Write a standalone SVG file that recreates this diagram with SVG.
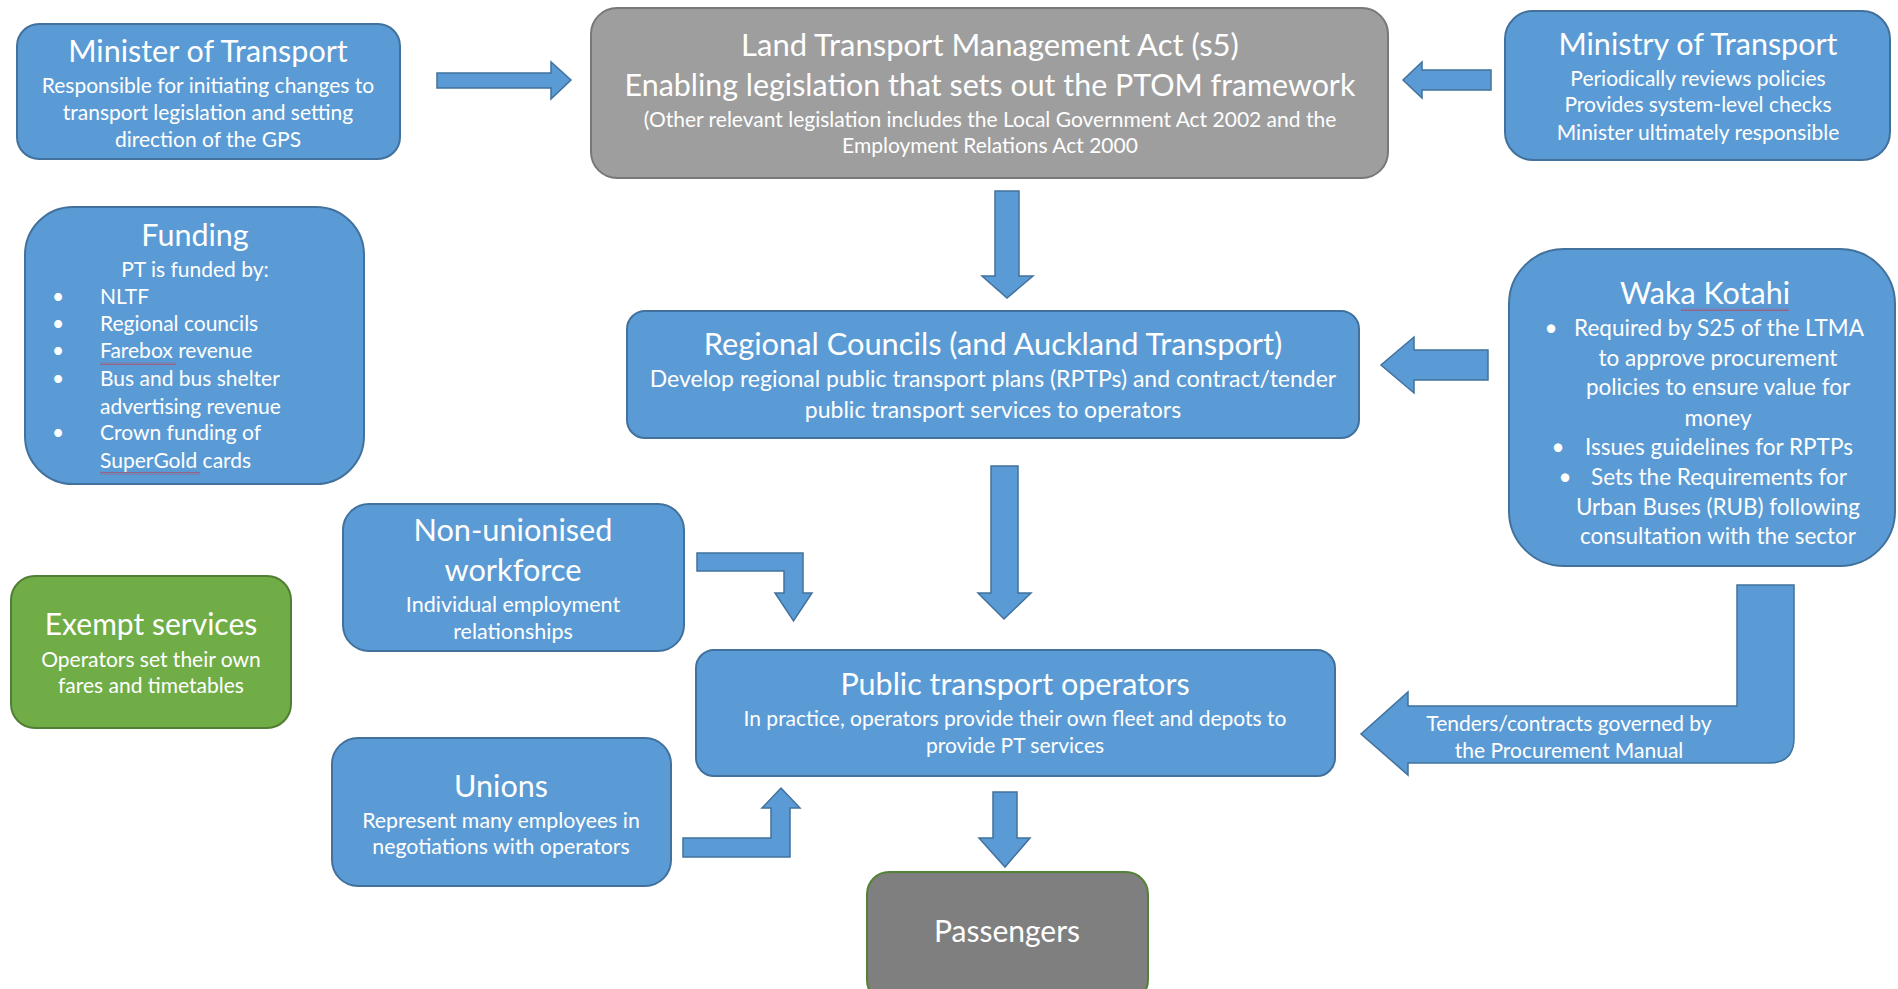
<svg xmlns="http://www.w3.org/2000/svg" width="1898" height="989" viewBox="0 0 1898 989">
<defs>
<style>
.blue{fill:#5B9BD5;stroke:#41719C;stroke-width:2}
.gray{fill:#9E9E9E;stroke:#787878;stroke-width:2}
.dgray{fill:#7F7F7F;stroke:#548235;stroke-width:2}
.green{fill:#70AD47;stroke:#507E32;stroke-width:2}
.arrow{fill:#5B9BD5;stroke:#41719C;stroke-width:1.5}
text{font-family:Lato,"Liberation Sans",sans-serif;fill:#FFFFFF;text-anchor:middle}
.t{font-size:30.5px}
.b21{font-size:21px}
.b22{font-size:22.5px}
.b23{font-size:23px}
.l{text-anchor:start}
</style>
<pattern id="wavy" x="0" y="0" width="4" height="3" patternUnits="userSpaceOnUse">
<path d="M0,2.5 L2,0.5 L4,2.5" fill="none" stroke="#E0202A" stroke-width="0.9"/>
</pattern>
</defs>
<rect width="1898" height="989" fill="#FFFFFF"/>

<g id="connectors">
<polygon class="arrow" points="437,73 551,73 551,62 571,80 551,99 551,88 437,88"/>
<polygon class="arrow" points="1491,70 1422,70 1422,62 1403,80 1422,98 1422,90 1491,90"/>
<polygon class="arrow" points="995,191 1019,191 1019,276 1033,276 1007,298 982,276 995,276"/>
<polygon class="arrow" points="1488,350 1414,350 1414,337 1381,365 1414,393 1414,380 1488,380"/>
<polygon class="arrow" points="991,466 1018,466 1018,593 1031,593 1004,619 978,593 991,593"/>
<polygon class="arrow" points="697,553 803,553 803,593 812,593 793.5,621 775,593 784,593 784,571 697,571"/>
<polygon class="arrow" points="683,838 771,838 771,808 762,808 781,788 800,808 790,808 790,857 683,857"/>
<polygon class="arrow" points="993,792 1017,792 1017,838 1030,838 1005,867 979,838 993,838"/>
<path class="arrow" d="M1737,585 L1794,585 L1794,738 Q1794,763 1769,763 L1408,763 L1408,775 L1361,734 L1408,692 L1408,706 L1737,706 Z"/>
<text class="b21" x="1569" y="731">Tenders/contracts governed by</text>
<text class="b21" x="1569" y="758">the Procurement Manual</text>
</g>

<g id="minister">
<rect class="blue" x="17" y="24" width="383" height="135" rx="22"/>
<text class="t" x="208" y="62">Minister of Transport</text>
<text class="b21" x="208" y="93">Responsible for initiating changes to</text>
<text class="b21" x="208" y="120">transport legislation and setting</text>
<text class="b21" x="208" y="147">direction of the GPS</text>
</g>

<g id="ltma">
<rect class="gray" x="591" y="8" width="797" height="170" rx="26"/>
<text x="990" y="56" style="font-size:31px">Land Transport Management Act (s5)</text>
<text x="990" y="96" style="font-size:30.4px">Enabling legislation that sets out the PTOM framework</text>
<text class="b21" x="990" y="127">(Other relevant legislation includes the Local Government Act 2002 and the</text>
<text class="b21" x="990" y="153">Employment Relations Act 2000</text>
</g>

<g id="ministry">
<rect class="blue" x="1505" y="11" width="385" height="149" rx="28"/>
<text class="t" x="1698" y="55">Ministry of Transport</text>
<text class="b21" x="1698" y="86">Periodically reviews policies</text>
<text class="b21" x="1698" y="112">Provides system-level checks</text>
<text class="b21" x="1698" y="140">Minister ultimately responsible</text>
</g>

<g id="funding">
<rect class="blue" x="25" y="207" width="339" height="277" rx="48"/>
<text class="t" x="195" y="246">Funding</text>
<text class="b21" x="195" y="277">PT is funded by:</text>
<text class="b21" x="58" y="304">•</text>
<text class="b21 l" x="100" y="304">NLTF</text>
<text class="b21" x="58" y="331">•</text>
<text class="b21 l" x="100" y="331">Regional councils</text>
<text class="b21" x="58" y="358">•</text>
<text class="b21 l" x="100" y="358">Farebox revenue</text>
<rect x="100" y="362" width="76" height="3" fill="url(#wavy)"/>
<text class="b21" x="58" y="386">•</text>
<text class="b21 l" x="100" y="386">Bus and bus shelter</text>
<text class="b21 l" x="100" y="414">advertising revenue</text>
<text class="b21" x="58" y="440">•</text>
<text class="b21 l" x="100" y="440">Crown funding of</text>
<text class="b21 l" x="100" y="468">SuperGold cards</text>
<rect x="100" y="472" width="100" height="3" fill="url(#wavy)"/>
</g>

<g id="waka">
<rect class="blue" x="1509" y="249" width="386" height="317" rx="55"/>
<text class="t" x="1705" y="304">Waka Kotahi</text>
<rect x="1681" y="308" width="108" height="3" fill="url(#wavy)"/>
<text class="b22" x="1551" y="336">•</text>
<text class="b22" x="1719" y="336">Required by S25 of the LTMA</text>
<text class="b22" x="1718" y="366">to approve procurement</text>
<text class="b22" x="1718" y="395">policies to ensure value for</text>
<text class="b22" x="1718" y="426">money</text>
<text class="b22" x="1558" y="455">•</text>
<text class="b22" x="1719" y="455">Issues guidelines for RPTPs</text>
<text class="b22" x="1565" y="485">•</text>
<text class="b22" x="1719" y="485">Sets the Requirements for</text>
<text class="b22" x="1718" y="515">Urban Buses (RUB) following</text>
<text class="b22" x="1718" y="544">consultation with the sector</text>
</g>

<g id="regional">
<rect class="blue" x="627" y="311" width="732" height="127" rx="18"/>
<text x="993" y="355" style="font-size:30.8px">Regional Councils (and Auckland Transport)</text>
<text class="b23" x="993" y="387">Develop regional public transport plans (RPTPs) and contract/tender</text>
<text class="b23" x="993" y="418">public transport services to operators</text>
</g>

<g id="nonunion">
<rect class="blue" x="343" y="504" width="341" height="147" rx="26"/>
<text x="513" y="541" style="font-size:30.7px">Non-unionised</text>
<text x="513" y="581" style="font-size:30.7px">workforce</text>
<text x="513" y="612" style="font-size:21.5px">Individual employment</text>
<text x="513" y="639" style="font-size:21.5px">relationships</text>
</g>

<g id="exempt">
<rect class="green" x="11" y="576" width="280" height="152" rx="24"/>
<text x="151" y="635" style="font-size:30px">Exempt services</text>
<text class="b21" x="151" y="667">Operators set their own</text>
<text class="b21" x="151" y="693">fares and timetables</text>
</g>

<g id="operators">
<rect class="blue" x="696" y="650" width="639" height="126" rx="18"/>
<text class="t" x="1015" y="695">Public transport operators</text>
<text class="b21" x="1015" y="726">In practice, operators provide their own fleet and depots to</text>
<text class="b21" x="1015" y="753">provide PT services</text>
</g>

<g id="unions">
<rect class="blue" x="332" y="738" width="339" height="148" rx="26"/>
<text class="t" x="501" y="797">Unions</text>
<text x="501" y="828" style="font-size:21.3px">Represent many employees in</text>
<text x="501" y="854" style="font-size:21.3px">negotiations with operators</text>
</g>

<g id="passengers">
<rect class="dgray" x="867" y="872" width="281" height="130" rx="22"/>
<text x="1007" y="942" style="font-size:30px">Passengers</text>
</g>
</svg>
